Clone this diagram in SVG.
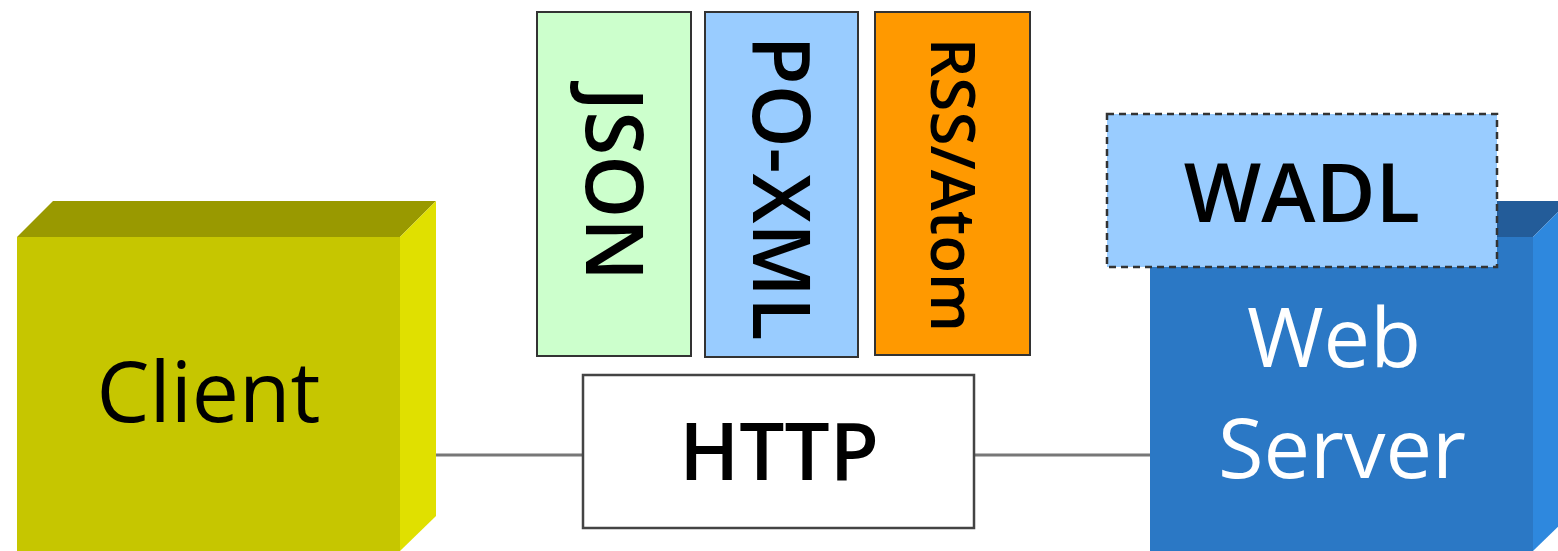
<svg xmlns="http://www.w3.org/2000/svg" width="1558" height="551" viewBox="0 0 1558 551">
  <style>
    .lbl { font-family: "Open Sans", "Liberation Sans", sans-serif; fill: #000; }
    .bold { font-weight: 600; }
    .fmt { stroke: #333; stroke-width: 2; }
    .link { stroke: #777; stroke-width: 3; fill: none; }
  </style>

  <!-- connectors -->
  <g id="connectors">
    <line class="link" x1="436" y1="455" x2="583" y2="455"/>
    <line class="link" x1="975" y1="455" x2="1150" y2="455"/>
  </g>

  <!-- client box (3D) -->
  <g id="client">
    <polygon points="17,237 53,201 436,201 400,237" fill="#999900"/>
    <polygon points="400,237 436,201 436,516 400,551" fill="#e0e000"/>
    <rect x="17" y="237" width="383" height="314" fill="#c6c600"/>
    <text class="lbl" x="208.5" y="422" font-size="84" text-anchor="middle">Client</text>
  </g>

  <!-- web server box (3D) -->
  <g id="web-server">
    <polygon points="1150,237 1186,201 1569,201 1533,237" fill="#235c99"/>
    <polygon points="1533,237 1569,201 1569,516 1533,551" fill="#2e88de"/>
    <rect x="1150" y="237" width="383" height="314" fill="#2b78c5"/>
    <text class="lbl" x="1334" y="367" font-size="83" text-anchor="middle" style="fill:#fff">Web</text>
    <text class="lbl" x="1342" y="478" font-size="83" text-anchor="middle" style="fill:#fff">Server</text>
  </g>

  <!-- WADL description -->
  <g id="wadl">
    <rect x="1107" y="114" width="390" height="153" fill="#99ccff" stroke="#333" stroke-width="2.5" stroke-dasharray="7,5"/>
    <text class="lbl bold" x="1302" y="222" font-size="82" text-anchor="middle">WADL</text>
  </g>

  <!-- HTTP -->
  <g id="http">
    <rect x="583" y="375" width="391" height="153" fill="#fff" stroke="#444" stroke-width="2.5"/>
    <text class="lbl bold" x="779" y="480" font-size="80" text-anchor="middle">HTTP</text>
  </g>

  <!-- representation formats -->
  <g id="json">
    <rect class="fmt" x="537" y="12" width="154" height="344" fill="#ccffcc"/>
    <text class="lbl bold" transform="translate(586,184) rotate(90)" font-size="80" text-anchor="middle">JSON</text>
  </g>
  <g id="po-xml">
    <rect class="fmt" x="705" y="12" width="153" height="345" fill="#99ccff"/>
    <text class="lbl bold" transform="translate(753,188) rotate(90)" font-size="80" text-anchor="middle">PO-XML</text>
  </g>
  <g id="rss-atom">
    <rect class="fmt" x="875" y="12" width="155" height="343" fill="#ff9900"/>
    <text class="lbl bold" transform="translate(931,185) rotate(90)" font-size="62" text-anchor="middle">RSS/Atom</text>
  </g>
</svg>
